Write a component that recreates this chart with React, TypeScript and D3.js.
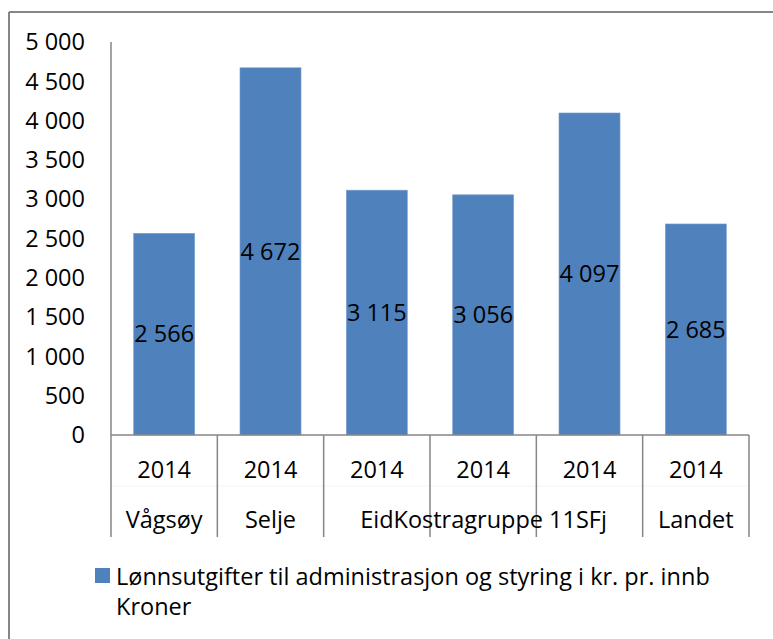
import React, { useEffect, useRef } from 'react';
import * as d3 from 'd3';

// values
const places = ['Vågsøy', 'Selje', 'Eid', 'Kostragruppe 11SFj', 'Landet'];
const categories = ['Vågsøy', 'Selje', 'Eid', 'Kostragruppe 11SFj', 'SFj', 'Landet'];
const years = ['2014', '2014', '2014', '2014', '2014', '2014'];
const values = [2566, 4672, 3115, 3056, 4097, 2685];
const yTicks = [0, 500, 1000, 1500, 2000, 2500, 3000, 3500, 4000, 4500, 5000];
const seriesName = 'Lønnsutgifter til administrasjon og styring i kr. pr. innb';
const seriesUnit = 'Kroner';

const W = 773;
const H = 639;
const FONT = '"Open Sans", Lato, sans-serif';
const FS = 23.5;
const BLUE = '#4f81bd';
const GRAY = '#868686';

const fmt = (v: number) => d3.format(',')(v).replace(/,/g, ' ');

const App = () => {
  const svgRef = useRef<SVGSVGElement>(null);

  useEffect(() => {
    const svg = d3.select(svgRef.current);
    svg.selectAll('*').remove();

    const left = 111, right = 749, top = 42, bottom = 435;

    // chart frame (only left and top edges are visible in the picture)
    svg.append('line').attr('x1', 9).attr('x2', W).attr('y1', 12).attr('y2', 12)
      .attr('stroke', GRAY).attr('stroke-width', 2);
    svg.append('line').attr('x1', 9).attr('x2', 9).attr('y1', 12).attr('y2', H)
      .attr('stroke', GRAY).attr('stroke-width', 2);

    const y = d3.scaleLinear().domain([0, 5000]).range([bottom, top]);
    const band = d3.scaleBand<string>().domain(categories).range([left, right]).padding(0);
    const x = d3.scaleBand<string>().domain(categories).range([left, right])
      .paddingInner(0.426).paddingOuter(0.213);

    const txt = (sel: any) => sel
      .attr('font-family', FONT).attr('font-size', FS).attr('fill', '#000');

    // y axis labels
    svg.append('g').selectAll('text').data(yTicks).enter().append('text')
      .attr('x', 85).attr('y', d => y(d))
      .attr('dy', '0.35em')
      .attr('text-anchor', 'end')
      .call(txt)
      .text(d => fmt(d));

    // bars
    svg.append('g').selectAll('rect').data(values).enter().append('rect')
      .attr('x', (d, i) => x(categories[i])!)
      .attr('y', d => y(d))
      .attr('width', x.bandwidth())
      .attr('height', d => bottom - y(d))
      .attr('fill', BLUE)
      .attr('stroke', '#7ea2d0').attr('stroke-width', 0.6);

    // data labels in the middle of each bar
    svg.append('g').selectAll('text').data(values).enter().append('text')
      .attr('x', (d, i) => band(categories[i])! + band.bandwidth() / 2)
      .attr('y', d => (y(d) + bottom) / 2)
      .attr('dy', '0.35em')
      .attr('text-anchor', 'middle')
      .call(txt)
      .text(d => fmt(d));

    // axis lines
    svg.append('line')
      .attr('x1', left).attr('x2', left).attr('y1', top).attr('y2', bottom)
      .attr('stroke', GRAY).attr('stroke-width', 1.5);
    svg.append('line')
      .attr('x1', left).attr('x2', right).attr('y1', bottom).attr('y2', bottom)
      .attr('stroke', GRAY).attr('stroke-width', 1.5);

    // faint row divider of the two level category axis
    svg.append('line')
      .attr('x1', left).attr('x2', right).attr('y1', 486).attr('y2', 486)
      .attr('stroke', '#f4f4f4').attr('stroke-width', 1);

    // category separators
    const edges = categories.map(c => band(c)!).concat([right]);
    svg.append('g').selectAll('line').data(edges).enter().append('line')
      .attr('x1', d => d).attr('x2', d => d)
      .attr('y1', bottom).attr('y2', 537)
      .attr('stroke', GRAY).attr('stroke-width', 1.5);

    // year row
    svg.append('g').selectAll('text').data(years).enter().append('text')
      .attr('x', (d, i) => band(categories[i])! + band.bandwidth() / 2)
      .attr('y', 470).attr('dy', '0.35em')
      .attr('text-anchor', 'middle')
      .call(txt)
      .text(d => d);

    // place row; labels that would overlap are pushed right
    const placeIdx = places.map(p => categories.indexOf(p));
    const names = svg.append('g').selectAll('text').data(places).enter().append('text')
      .attr('x', (d, i) => band(categories[placeIdx[i]])! + band.bandwidth() / 2)
      .attr('y', 520).attr('dy', '0.35em')
      .attr('text-anchor', 'middle')
      .call(txt)
      .text(d => d);
    let prevRight = -Infinity;
    names.each(function () {
      const t = this as SVGTextElement;
      const w = t.getComputedTextLength();
      let cx = +t.getAttribute('x')!;
      if (cx - w / 2 < prevRight) cx = prevRight + w / 2;
      t.setAttribute('x', String(cx));
      prevRight = cx + w / 2;
    });

    // legend
    const lg = svg.append('g');
    lg.append('rect').attr('x', 95).attr('y', 568).attr('width', 15).attr('height', 15).attr('fill', BLUE);
    lg.append('text').attr('x', 116).attr('y', 577).attr('dy', '0.35em')
      .call(txt)
      .text(seriesName);
    lg.append('text').attr('x', 116).attr('y', 607).attr('dy', '0.35em')
      .call(txt)
      .text(seriesUnit);
  }, []);

  return (
    <svg ref={svgRef} width={W} height={H}
      style={{ position: 'absolute', left: 0, top: 0, background: '#fff' }} />
  );
};

export default App;
